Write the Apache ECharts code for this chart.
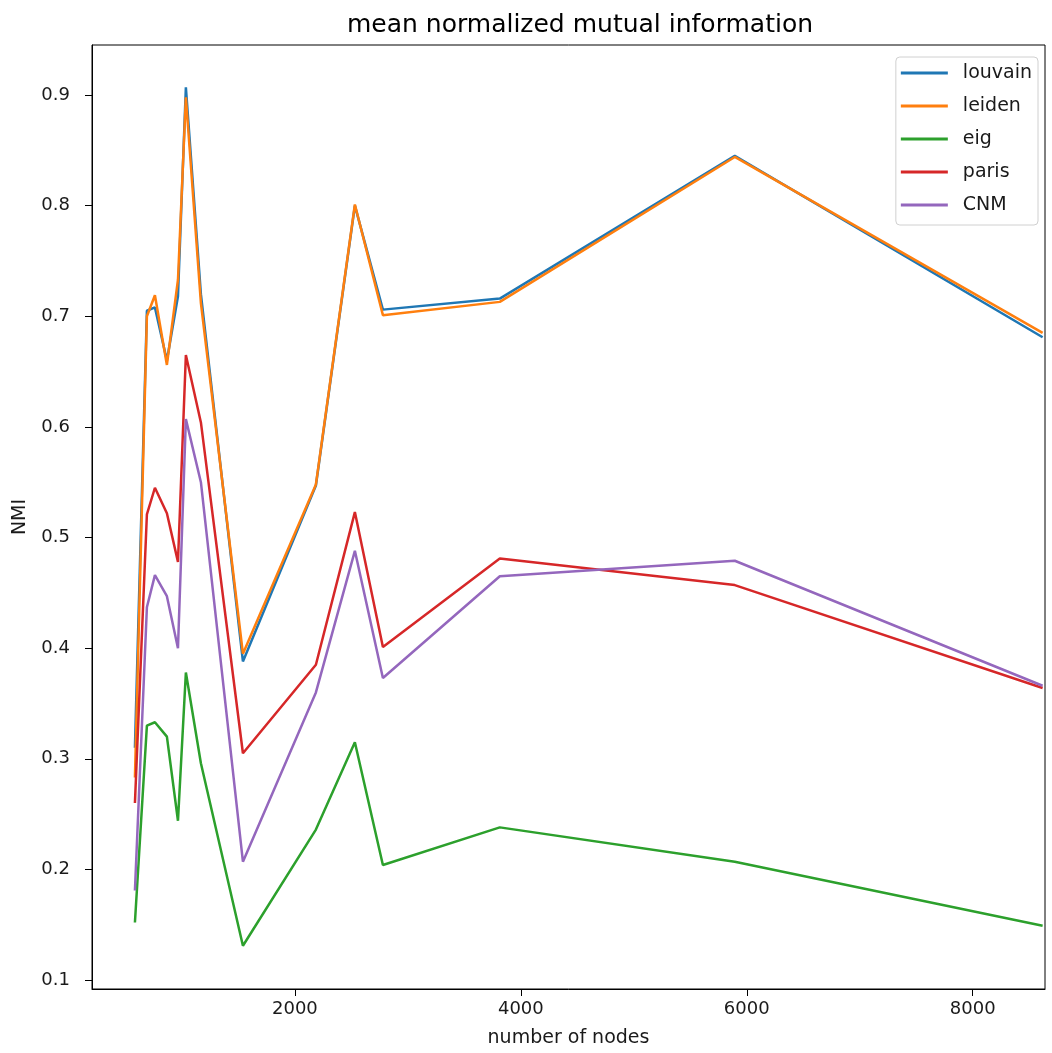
<!DOCTYPE html>
<html>
<head>
<meta charset="utf-8">
<script src="https://cdn.jsdelivr.net/npm/echarts@6/dist/echarts.min.js"></script>
<style>
html,body{margin:0;padding:0;background:#fff;}
#chart{width:1052px;height:1053px;}
</style>
</head>
<body>
<div id="chart"></div>
<script>
const nodes = [584, 690, 761, 867, 965, 1035, 1168, 1540, 2186, 2531, 2779, 3814, 5894, 8619];
const louvain = [0.310, 0.705, 0.708, 0.660, 0.718, 0.907, 0.720, 0.388, 0.547, 0.800, 0.706, 0.716, 0.845, 0.681];
const leiden  = [0.283, 0.700, 0.719, 0.656, 0.733, 0.898, 0.712, 0.395, 0.548, 0.801, 0.701, 0.713, 0.844, 0.685];
const eig     = [0.152, 0.330, 0.333, 0.320, 0.244, 0.378, 0.296, 0.131, 0.236, 0.315, 0.204, 0.238, 0.207, 0.149];
const paris   = [0.260, 0.521, 0.545, 0.522, 0.478, 0.665, 0.604, 0.305, 0.385, 0.523, 0.401, 0.481, 0.457, 0.364];
const cnm     = [0.181, 0.437, 0.466, 0.447, 0.400, 0.607, 0.550, 0.207, 0.360, 0.488, 0.373, 0.465, 0.479, 0.366];
const xTicks = [2000, 4000, 6000, 8000];
const yTicks = [0.1, 0.2, 0.3, 0.4, 0.5, 0.6, 0.7, 0.8, 0.9];
const seriesNames = ['louvain', 'leiden', 'eig', 'paris', 'CNM'];
const seriesColors = ['#1f77b4', '#ff7f0e', '#2ca02c', '#d62728', '#9467bd'];

const seriesValues = [louvain, leiden, eig, paris, cnm];
const font = 'DejaVu Sans';
const chart = echarts.init(document.getElementById('chart'));
chart.setOption({
  animation: false,
  backgroundColor: '#fff',
  textStyle: {fontFamily: font},
  title: {
    text: 'mean normalized mutual information',
    left: 575, top: 8, textAlign: 'center',
    textStyle: {fontFamily: font, fontSize: 25, fontWeight: 'normal', color: '#000'}
  },
  grid: {left: 92, right: 7, top: 45, bottom: 64, show: true, borderColor: '#000', borderWidth: 1, backgroundColor: 'transparent'},
  legend: {
    orient: 'vertical', right: 14, top: 57,
    data: seriesNames,
    icon: 'rect', itemWidth: 47, itemHeight: 3, itemGap: 13,
    backgroundColor: '#fff', borderColor: '#d0d0d0', borderWidth: 1, borderRadius: 4,
    padding: [6, 6, 10, 5],
    textStyle: {fontFamily: font, fontSize: 19, lineHeight: 20, color: '#1a1a1a', padding: [0, 0, 0, 10]}
  },
  xAxis: {
    type: 'value', min: 204, max: 8640,
    name: 'number of nodes', nameLocation: 'middle', nameGap: 40,
    nameTextStyle: {fontFamily: font, fontSize: 19, color: '#1a1a1a'},
    splitLine: {show: false},
    axisLine: {show: true, onZero: false, lineStyle: {color: '#000'}},
    axisTick: {show: true, length: 7, lineStyle: {color: '#000'}, customValues: xTicks},
    axisLabel: {fontFamily: font, fontSize: 18, color: '#1a1a1a', margin: 11, customValues: xTicks,
      formatter: v => String(v)}
  },
  yAxis: {
    type: 'value', min: 0.0919, max: 0.9452,
    name: 'NMI', nameLocation: 'middle', nameGap: 62, nameRotate: 90,
    nameTextStyle: {fontFamily: font, fontSize: 19, color: '#1a1a1a'},
    splitLine: {show: false},
    axisLine: {show: true, onZero: false, lineStyle: {color: '#000'}},
    axisTick: {show: true, length: 7, lineStyle: {color: '#000'}, customValues: yTicks},
    axisLabel: {fontFamily: font, fontSize: 18, color: '#1a1a1a', margin: 22, customValues: yTicks,
      formatter: v => v.toFixed(1)}
  },
  series: seriesNames.map((name, i) => ({
    name, type: 'line', symbol: 'none', showSymbol: false,
    data: nodes.map((x, j) => [x, seriesValues[i][j]]),
    lineStyle: {width: 2.5, color: seriesColors[i]},
    itemStyle: {color: seriesColors[i]}
  }))
});
</script>
</body>
</html>
